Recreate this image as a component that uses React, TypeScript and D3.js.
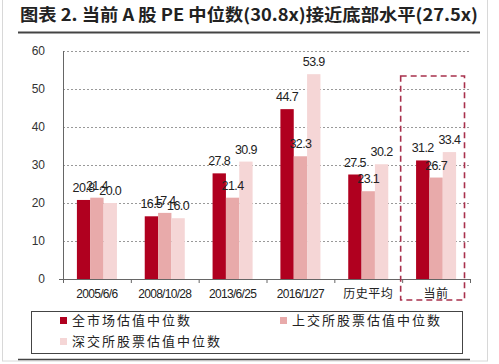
import { useRef, useEffect } from 'react';
import * as d3 from 'd3';

const categories = ['2005/6/6', '2008/10/28', '2013/6/25', '2016/1/27', '历史平均', '当前'];
const seriesNames = ['全市场估值中位数', '上交所股票估值中位数', '深交所股票估值中位数'];
const allMarket = [20.8, 16.5, 27.8, 44.7, 27.5, 31.2];
const shanghai = [21.4, 17.4, 21.4, 32.3, 23.1, 26.7];
const shenzhen = [20.0, 16.0, 30.9, 53.9, 30.2, 33.4];
const yTicks = [0, 10, 20, 30, 40, 50, 60];
const colors = ['#b0001f', '#e8aaaa', '#f5d6d6'];

export default function App() {
  const svgRef = useRef<SVGSVGElement>(null);

  useEffect(() => {
    if (!svgRef.current) return;
    const width = 499;
    const height = 364;
    const margin = { top: 51, right: 29, bottom: 85, left: 63 };

    const svg = d3.select(svgRef.current)
      .attr('width', width)
      .attr('height', height);
    svg.selectAll('*').remove();

    // outer frame
    svg.append('rect')
      .attr('x', 2.5).attr('y', -2)
      .attr('width', 485).attr('height', 363)
      .attr('fill', 'white')
      .attr('stroke', '#d8d8d8');

    // title
    svg.append('text')
      .attr('x', 20).attr('y', 21)
      .attr('font-family', '"Noto Sans CJK SC", sans-serif')
      .attr('font-weight', 'bold')
      .attr('font-size', 17)
      .attr('fill', '#222')
      .attr('textLength', 458)
      .attr('lengthAdjust', 'spacingAndGlyphs')
      .text('图表 2. 当前 A 股 PE 中位数(30.8x)接近底部水平(27.5x)');
    svg.append('line')
      .attr('x1', 18).attr('x2', 480)
      .attr('y1', 32.5).attr('y2', 32.5)
      .attr('stroke', '#444').attr('stroke-width', 2);

    const x = d3.scaleBand()
      .domain(categories)
      .range([margin.left, width - margin.right])
      .paddingInner(0)
      .paddingOuter(0);

    const y = d3.scaleLinear()
      .domain([0, 60])
      .range([height - margin.bottom, margin.top]);

    const inner = d3.scaleBand<number>()
      .domain([0, 1, 2])
      .range([x.bandwidth() * 0.205, x.bandwidth() * 0.795]);

    // gridlines
    svg.append('g')
      .selectAll('line')
      .data(yTicks.filter(t => t > 0))
      .join('line')
      .attr('x1', margin.left)
      .attr('x2', width - margin.right)
      .attr('y1', d => Math.round(y(d)) + 0.5)
      .attr('y2', d => Math.round(y(d)) + 0.5)
      .attr('stroke', '#999')
      .attr('stroke-dasharray', '2,2');

    // y axis labels
    svg.append('g')
      .selectAll('text')
      .data(yTicks)
      .join('text')
      .attr('x', 45)
      .attr('y', d => y(d) + 4)
      .attr('text-anchor', 'end')
      .attr('font-family', 'Arial, "Liberation Sans", sans-serif')
      .attr('font-size', 12)
      .attr('fill', '#333')
      .text(d => d);

    const series = [allMarket, shanghai, shenzhen];

    // bars
    series.forEach((vals, si) => {
      svg.append('g')
        .selectAll('rect')
        .data(vals)
        .join('rect')
        .attr('x', (_, i) => x(categories[i])! + inner(si)!)
        .attr('y', d => y(d))
        .attr('width', inner.bandwidth())
        .attr('height', d => y(0) - y(d))
        .attr('fill', colors[si]);
    });

    // value labels
    series.forEach((vals, si) => {
      svg.append('g')
        .selectAll('text')
        .data(vals)
        .join('text')
        .attr('x', (_, i) => x(categories[i])! + inner(si)! + inner.bandwidth() / 2)
        .attr('y', d => y(d) - 8)
        .attr('text-anchor', 'middle')
        .attr('font-family', 'Arial, "Liberation Sans", sans-serif')
        .attr('font-size', 12.5)
        .attr('letter-spacing', -0.6)
        .attr('fill', '#222')
        .text(d => d.toFixed(1));
    });

    // axes lines
    svg.append('line')
      .attr('x1', margin.left + 0.5).attr('x2', margin.left + 0.5)
      .attr('y1', margin.top).attr('y2', y(0))
      .attr('stroke', '#666');
    svg.append('line')
      .attr('x1', margin.left - 4).attr('x2', width - margin.right)
      .attr('y1', y(0) + 0.5).attr('y2', y(0) + 0.5)
      .attr('stroke', '#666');
    svg.append('g')
      .selectAll('line')
      .data(d3.range(categories.length + 1))
      .join('line')
      .attr('x1', i => margin.left + i * x.bandwidth() + 0.5)
      .attr('x2', i => margin.left + i * x.bandwidth() + 0.5)
      .attr('y1', y(0))
      .attr('y2', y(0) + 4)
      .attr('stroke', '#666');

    // x labels
    svg.append('g')
      .selectAll('text')
      .data(categories)
      .join('text')
      .attr('x', d => x(d)! + x.bandwidth() / 2)
      .attr('y', y(0) + 19)
      .attr('text-anchor', 'middle')
      .attr('font-family', d => /^\d/.test(d) ? 'Arial, "Liberation Sans", sans-serif' : '"Noto Sans CJK SC", sans-serif')
      .attr('font-size', 12)
      .attr('letter-spacing', d => /^\d/.test(d) ? -0.7 : 0.5)
      .attr('fill', '#222')
      .text(d => d);

    // highlight box around the last category
    const last = categories[categories.length - 1];
    svg.append('rect')
      .attr('x', x(last)! - 1.5)
      .attr('y', 76)
      .attr('width', x.bandwidth() - 4)
      .attr('height', 224)
      .attr('fill', 'none')
      .attr('stroke', '#a8304c')
      .attr('stroke-width', 1.6)
      .attr('stroke-dasharray', '6,4');

    // legend
    svg.append('rect')
      .attr('x', 31.5).attr('y', 311.5)
      .attr('width', 431).attr('height', 42)
      .attr('fill', 'white')
      .attr('stroke', '#444');
    const legendPos = [[60, 324], [280, 324], [60, 345]];
    seriesNames.forEach((name, i) => {
      const [lx, ly] = legendPos[i];
      svg.append('rect')
        .attr('x', lx).attr('y', ly - 7)
        .attr('width', 7).attr('height', 7)
        .attr('fill', colors[i]);
      svg.append('text')
        .attr('x', lx + 12).attr('y', ly + 1)
        .attr('font-family', '"Noto Sans CJK SC", sans-serif')
        .attr('font-size', 13)
        .attr('letter-spacing', 2)
        .attr('fill', '#222')
        .text(name);
    });

    // bottom rule
    svg.append('line')
      .attr('x1', 18).attr('x2', 470)
      .attr('y1', 359.5).attr('y2', 359.5)
      .attr('stroke', '#444').attr('stroke-width', 1.5);
  }, []);

  return (
    <div style={{ position: 'absolute', left: 0, top: 0 }}>
      <svg ref={svgRef} style={{ display: 'block' }}></svg>
    </div>
  );
}
